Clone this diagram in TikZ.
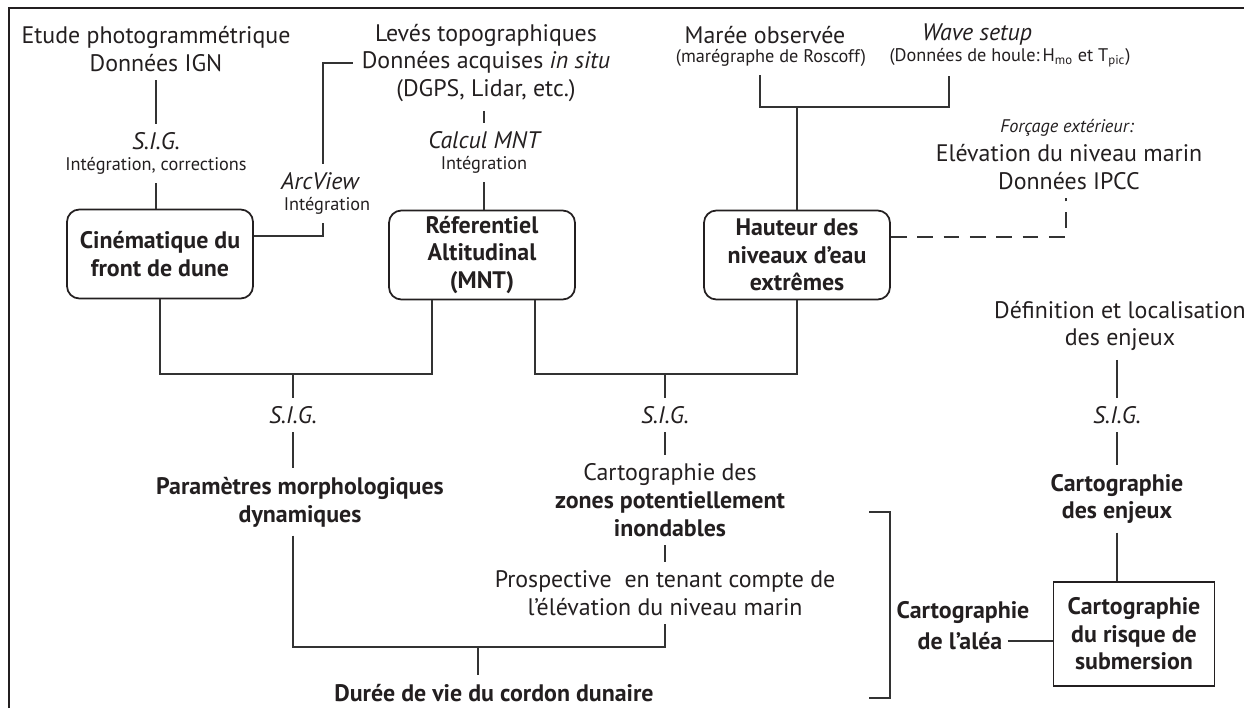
\documentclass[tikz,border=0pt]{standalone}
\usepackage{fontspec}
\setmainfont{PT Sans}
\usetikzlibrary{positioning}
\definecolor{ink}{HTML}{231F20}
\definecolor{wire}{HTML}{333333}

\tikzset{
  big/.style={font=\fontsize{13.6}{15.8}\selectfont,align=center,inner sep=1pt,outer sep=4pt,text=ink},
  small/.style={font=\fontsize{10.4}{12}\selectfont,align=center,inner sep=1pt,outer sep=4pt,text=ink},
  heavy/.style={font=\fontsize{13.6}{15.8}\selectfont\bfseries,align=center,inner sep=1pt,outer sep=4pt,text=ink},
  sig/.style={font=\fontsize{13.6}{15.8}\selectfont\itshape,inner sep=1pt,outer sep=4pt,text=ink},
  stage/.style={draw=ink,line width=1pt,rounded corners=7pt,minimum width=3.72cm,minimum height=1.78cm,
    font=\fontsize{13.6}{15.6}\selectfont\bfseries,align=center,text=ink},
  wire/.style={draw=wire,line width=0.85pt},
  dashwire/.style={wire,dash pattern=on 9pt off 6pt},
}

\begin{document}
\begin{tikzpicture}[x=0.02cm,y=-0.02cm]
  \useasboundingbox (0,0) rectangle (1244,708);
  \draw[ink,line width=1.2pt] (9,708) -- (9,8) -- (1244,8);

  % dune front
  \node[big] (etude) at (156,49) {Etude photogrammétrique\\Données IGN};
  \node[sig] (sigA) at (156,141) {S.I.G.};
  \node[small] (intA) at (156,166) {Intégration, corrections};
  \node[stage] (cine) at (160,254) {Cinématique du\\front de dune};

  % topography
  \node[big] (leves) at (486,63) {Levés topographiques\\Données acquises \textit{in situ}\\(DGPS, Lidar, etc.)};
  \node[sig] (calc) at (484,140) {Calcul MNT};
  \node[small] (intB) at (484,165) {Intégration};
  \node[stage] (ref) at (482,255) {Réferentiel\\Altitudinal\\(MNT)};
  \node[sig] (arcv) at (320,181) {ArcView};
  \node[small] (intC) at (327,206) {Intégration};

  % water levels
  \node[big] (maree) at (765,35) {Marée observée};
  \node[small] (roscoff) at (771,58) {(marégraphe de Roscoff)};
  \node[sig] (wave) at (977,35) {Wave setup};
  \node[small] (houle) at (1010,58) {(Données de houle:\,H\textsubscript{mo} et T\textsubscript{pic})};
  \node[stage] (haut) at (797,255) {Hauteur des\\niveaux d'eau\\extrêmes};
  \node[small,font=\fontsize{10.4}{12}\selectfont\itshape] (forc) at (1067,128) {Forçage extérieur:};
  \node[big] (ipcc) at (1069,167) {Elévation du niveau marin\\Données IPCC};

  % lower part
  \node[sig] (sigB) at (293,415) {S.I.G.};
  \node[heavy] (param) at (300,502) {Paramètres morphologiques\\dynamiques};
  \node[sig] (sigC) at (665,415) {S.I.G.};
  \node[big] (zones) at (670,500) {Cartographie des\\\textbf{zones potentiellement}\\\textbf{inondables}};
  \node[big] (prosp) at (665,593) {Prospective\ \ en tenant compte de\\l'élévation du niveau marin};
  \node[heavy] (duree) at (494,693) {Durée de vie du cordon dunaire};

  % stakes and risk
  \node[big] (defin) at (1120,326) {Définition et localisation\\des enjeux};
  \node[sig] (sigD) at (1117,415) {S.I.G.};
  \node[heavy] (enjeux) at (1117,499) {Cartographie\\des enjeux};
  \node[stage,rounded corners=0pt,minimum width=3.22cm,minimum height=2.08cm] (risk) at (1134,634)
    {Cartographie\\du risque de\\submersion};
  \node[heavy] (aleaA) at (963,612) {Cartographie};
  \node[heavy,outer sep=2pt] (aleaB) at (960,641) {de l'aléa};

  \coordinate (arcjoin) at (323,236);
  \coordinate (tideL) at (760,107);
  \coordinate (tide) at (797,107);
  \coordinate (tideR) at (949,107);
  \coordinate (ipccjoin) at (1066,237);
  \coordinate (refL) at (432,374);
  \coordinate (refR) at (535,374);
  \coordinate (morphjoin) at (293,374);
  \coordinate (zonejoin) at (665,374);
  \coordinate (lifejoin) at (478,647);

  \draw[wire] (etude) -- (sigA);
  \draw[wire] (intA) -- (intA |- cine.north);
  \draw[wire] (cine.east |- arcjoin) -- (arcjoin) -- (arcjoin |- intC.south);
  \draw[wire] (arcjoin |- arcv.north) |- (leves.west);
  \draw[wire] (calc.north |- leves.south) -- (calc.north);
  \draw[wire] (intB) -- (intB |- ref.north);

  \draw[wire] (tideL |- roscoff.south) -- (tideL) -- (tideR) -- (tideR |- houle.south);
  \draw[wire] (tide) -- (tide |- haut.north);
  \draw[dashwire] (haut.east |- ipccjoin) -- (ipccjoin) -- (ipccjoin |- ipcc.south);

  \draw[wire] (cine.south) |- (refL) -- (refL |- ref.south);
  \draw[wire] (morphjoin) -- (sigB);
  \draw[wire] (sigB) -- (sigB |- param.north);
  \draw[wire] (refR |- ref.south) -- (refR) -| (haut.south);
  \draw[wire] (zonejoin) -- (sigC);
  \draw[wire] (sigC) -- (sigC |- zones.north);
  \draw[wire] (prosp.north |- zones.south) -- (prosp.north);
  \draw[wire] (sigB |- param.south) |- (prosp.south |- lifejoin) -- (prosp.south);
  \draw[wire] (lifejoin) -- (lifejoin |- duree.north);

  \draw[wire] (defin.south -| sigD) -- (sigD);
  \draw[wire] (sigD) -- (sigD |- enjeux.north);
  \draw[wire] (enjeux.south) -- (enjeux.south |- risk.north);
  \draw[wire] (aleaB.east) -- (aleaB.east -| risk.west);

  % bracket round the hazard part
  \draw[wire] (869,512) -- (890,512) -- (890,698) -- (869,698);
\end{tikzpicture}
\end{document}
